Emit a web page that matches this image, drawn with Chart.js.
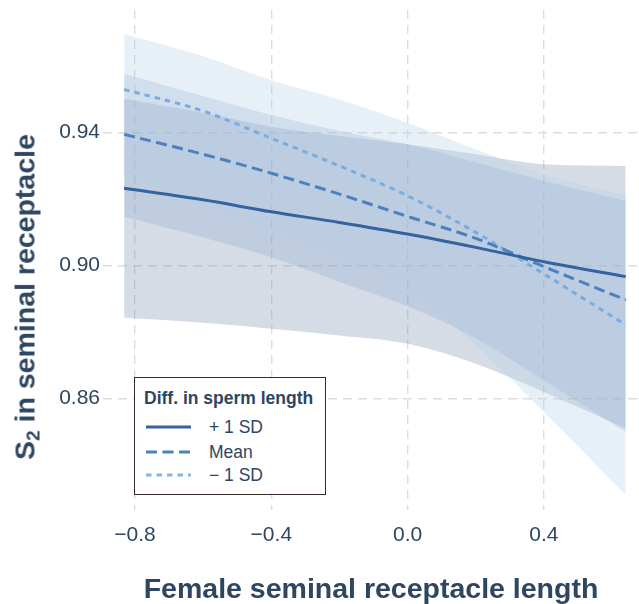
<!DOCTYPE html>
<html>
<head>
<meta charset="utf-8">
<script src="https://cdn.jsdelivr.net/npm/chart.js@4/dist/chart.umd.min.js"></script>
<style>
  html, body { margin: 0; padding: 0; background: #ffffff; }
  #wrap { position: relative; width: 639px; height: 604px; overflow: hidden; }
  #c { position: absolute; left: 0; top: 0; }
  #ytitle {
    position: absolute; left: 25px; top: 297px;
    transform: translate(-50%, -50%) rotate(-90deg);
    white-space: nowrap;
    font: bold 28.5px "Liberation Sans", Arial, sans-serif;
    color: #2e4660;
  }
  #ytitle sub { font-size: 19px; vertical-align: -5px; line-height: 0; }
  #legend {
    position: absolute; left: 134px; top: 377px; width: 190px; height: 116px;
    border: 1.6px solid #3b2a2a; background: #ffffff;
    font-family: "Liberation Sans", Arial, sans-serif; color: #2e4660;
  }
  #legend .ttl { position: absolute; left: 9px; top: 10px; font-weight: bold; font-size: 17.5px; white-space: nowrap; }
  #legend .row { position: absolute; left: 0; width: 100%; height: 20px; }
  #legend .row svg { position: absolute; left: 11px; top: 7px; }
  #legend .row span { position: absolute; left: 74px; top: 0; font-size: 17.5px; line-height: 20px; white-space: nowrap; }
</style>
</head>
<body>
<div id="wrap">
  <canvas id="c" width="639" height="604"></canvas>
  <div id="ytitle">S<sub>2</sub> in seminal receptacle</div>
  <div id="legend">
    <div class="ttl">Diff. in sperm length</div>
    <div class="row" style="top:39px"><svg width="46" height="6"><line x1="0" y1="3" x2="45" y2="3" stroke="#34639d" stroke-width="3"/></svg><span>+ 1 SD</span></div>
    <div class="row" style="top:64px"><svg width="46" height="6"><line x1="0" y1="3" x2="45" y2="3" stroke="#4d81be" stroke-width="3" stroke-dasharray="11 5.5"/></svg><span>Mean</span></div>
    <div class="row" style="top:87px"><svg width="46" height="6"><line x1="0" y1="3" x2="45" y2="3" stroke="#86b5e3" stroke-width="3" stroke-dasharray="5.5 5"/></svg><span>&#8722; 1 SD</span></div>
  </div>
</div>
<script>
// ---- data ----
const xValues   = [-0.832, -0.6, -0.4, -0.2, 0.0, 0.2, 0.4, 0.64];

const plusLine  = [0.9233, 0.9198, 0.9162, 0.9130, 0.9095, 0.9055, 0.9012, 0.8967];
const meanLine  = [0.9395, 0.9335, 0.9278, 0.9215, 0.9148, 0.9082, 0.8997, 0.8897];
const minusLine = [0.9530, 0.9465, 0.9383, 0.9300, 0.9210, 0.9100, 0.8975, 0.8822];

const plusUpper  = [0.9501, 0.9460, 0.9418, 0.9390, 0.9365, 0.9335, 0.9305, 0.9300];
const plusLower  = [0.8843, 0.8828, 0.8810, 0.8790, 0.8765, 0.8705, 0.8620, 0.8510];
const meanUpper  = [0.9577, 0.9510, 0.9453, 0.9405, 0.9365, 0.9310, 0.9255, 0.9195];
const meanLower  = [0.9147, 0.9085, 0.9025, 0.8951, 0.8878, 0.8782, 0.8655, 0.8500];
const minusUpper = [0.9697, 0.9630, 0.9558, 0.9500, 0.9430, 0.9350, 0.9275, 0.9210];
const minusLower = [0.9273, 0.9180, 0.9100, 0.9020, 0.8925, 0.8760, 0.8560, 0.8310];

const xTicks = [-0.8, -0.4, 0.0, 0.4];
const yTicks = [0.86, 0.90, 0.94];

const xTitle = 'Female seminal receptacle length';

// ---- helpers ----
const pts = arr => arr.map((y, i) => ({ x: xValues[i], y }));
const FONT = '"Liberation Sans", Arial, sans-serif';
const TEXT = '#2e4660';

function line(label, arr, color, dash) {
  return {
    label, data: pts(arr), borderColor: color, borderWidth: 3, borderDash: dash,
    borderCapStyle: 'butt', pointRadius: 0, fill: false,
    cubicInterpolationMode: 'monotone', order: 0
  };
}
function bandEdge(label, arr, fill, bg, order) {
  return {
    label, data: pts(arr), borderWidth: 0, borderColor: 'rgba(0,0,0,0)',
    pointRadius: 0, fill: fill, backgroundColor: bg,
    cubicInterpolationMode: 'monotone', order
  };
}

const datasets = [
  line('+ 1 SD', plusLine, '#34639d', []),
  line('Mean', meanLine, '#4d81be', [11, 5.5]),
  line('− 1 SD', minusLine, '#7aaddf', [5.5, 5]),
  bandEdge('+1 SD upper', plusUpper, '+1', 'rgba(115,138,172,0.3)', 3),
  bandEdge('+1 SD lower', plusLower, false, 'rgba(0,0,0,0)', 3),
  bandEdge('Mean upper', meanUpper, '+1', 'rgba(141,169,207,0.3)', 2),
  bandEdge('Mean lower', meanLower, false, 'rgba(0,0,0,0)', 2),
  bandEdge('−1 SD upper', minusUpper, '+1', 'rgba(178,205,228,0.3)', 1),
  bandEdge('−1 SD lower', minusLower, false, 'rgba(0,0,0,0)', 1)
];

new Chart(document.getElementById('c'), {
  type: 'line',
  data: { datasets },
  options: {
    responsive: false,
    animation: false,
    events: [],
    layout: { padding: { top: 10, right: 0, bottom: 0, left: 0 } },
    plugins: { legend: { display: false }, tooltip: { enabled: false }, filler: { propagate: false } },
    scales: {
      x: {
        type: 'linear', min: -0.894, max: 0.679,
        afterBuildTicks: ax => { ax.ticks = xTicks.map(v => ({ value: v })); },
        afterFit: ax => { ax.height = 94; ax.paddingLeft = 0; ax.paddingRight = 0; },
        border: { display: false, dash: [9, 6] },
        grid: { color: '#dcdde0', lineWidth: 1.4, drawTicks: false },
        ticks: {
          padding: 13, color: TEXT, font: { family: FONT, size: 21 }, autoSkip: false, maxRotation: 0,
          callback: v => (v < 0 ? '\u2212' : '') + Math.abs(v).toFixed(1)
        },
        title: { display: true, text: xTitle, color: TEXT, font: { family: FONT, size: 28.5, weight: 'bold' }, padding: { top: 0, bottom: -3 } }
      },
      y: {
        type: 'linear', min: 0.8265, max: 0.9769,
        afterBuildTicks: ax => { ax.ticks = yTicks.map(v => ({ value: v })); },
        afterFit: ax => { ax.width = 103; ax.paddingTop = 0; ax.paddingBottom = 0; },
        border: { display: false, dash: [9, 6] },
        grid: { color: '#dcdde0', lineWidth: 1.4, drawTicks: false },
        ticks: {
          padding: 3, color: TEXT, font: { family: FONT, size: 21 },
          callback: v => v.toFixed(2)
        }
      }
    }
  }
});
</script>
</body>
</html>
